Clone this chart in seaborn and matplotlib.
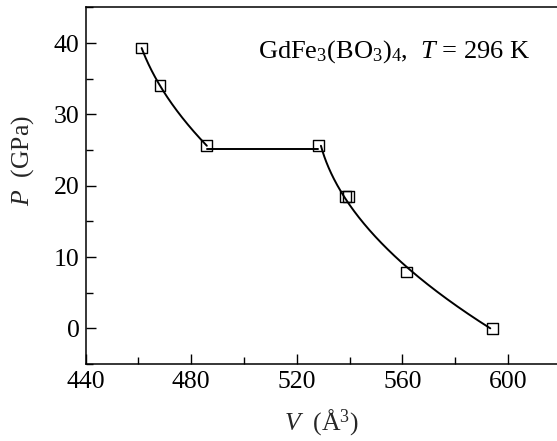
import numpy as np
import pandas as pd
import matplotlib
matplotlib.use("Agg")
import matplotlib.pyplot as plt
import seaborn as sns
from matplotlib.ticker import MultipleLocator

# Measured points: unit-cell volume (Å^3) versus pressure (GPa)
volume = [461.2, 468.2, 485.9, 528.1, 538.4, 539.7, 561.6, 594.2]
pressure = [39.3, 34.0, 25.6, 25.6, 18.5, 18.5, 7.9, 0.0]

# Branches of the guide line: high-pressure phase, plateau, low-pressure phase
high_branch = [0, 1, 2]
low_branch = [3, 4, 5, 6, 7]
plateau_level = 25.2

x_ticks = [440, 480, 520, 560, 600]
y_ticks = [0, 10, 20, 30, 40]

sns.set_style("ticks")
plt.rcParams["font.family"] = ["Liberation Serif", "DejaVu Serif"]
plt.rcParams["mathtext.fontset"] = "custom"
plt.rcParams["mathtext.rm"] = "Liberation Serif"
plt.rcParams["mathtext.it"] = "Liberation Serif:italic"
plt.rcParams["mathtext.bf"] = "Liberation Serif:bold"

W, H = 557, 441
fig = plt.figure(figsize=(W / 100, H / 100), dpi=100)
left_px, right_px, top_px, bottom_px = 85.7, 557.0, 7.4, 364.0
ax = fig.add_axes([left_px / W, 1 - bottom_px / H,
                   (right_px - left_px) / W, (bottom_px - top_px) / H])

v = np.array(volume)
p = np.array(pressure)

def smooth_branch(idx):
    # equation-of-state style guide: V as a quadratic in P
    coef = np.polyfit(p[idx], v[idx], 2)
    pp_ = np.linspace(p[idx].min(), p[idx].max(), 200)
    return np.polyval(coef, pp_), pp_

vh, ph = smooth_branch(high_branch)
vl, pl = smooth_branch(low_branch)
vp = np.array([v[high_branch[-1]], v[low_branch[0]]])
pp = np.array([plateau_level, plateau_level])

line_kw = dict(color="black", linewidth=1.4, sort=False, ax=ax, legend=False)
sns.lineplot(x=vh, y=ph, **line_kw)
sns.lineplot(x=vp, y=pp, **line_kw)
sns.lineplot(x=vl, y=pl, **line_kw)

df = pd.DataFrame({"V": volume, "P": pressure})
sns.scatterplot(data=df, x="V", y="P", marker="s", s=60,
                facecolor="none", edgecolor="black", linewidth=1.0,
                ax=ax, zorder=3)

ax.set_xlim(440, 440 + (right_px - left_px) / 2.639)
ax.set_ylim(-5, 45)
ax.set_xticks(x_ticks)
ax.set_yticks(y_ticks)
ax.xaxis.set_minor_locator(MultipleLocator(20))
ax.yaxis.set_minor_locator(MultipleLocator(5))
ax.tick_params(which="both", direction="in", width=1.0, colors="black",
               labelsize=18.5, top=False, right=False)
ax.tick_params(which="major", length=7.5, pad=5)
ax.tick_params(which="minor", length=5)
ax.tick_params(axis="y", pad=4.5)

for side in ["left", "bottom", "top"]:
    ax.spines[side].set_linewidth(1.1)
    ax.spines[side].set_color("black")
ax.spines["right"].set_visible(False)

ax.set_xlabel(r"$V$  (Å$^3$)", fontsize=18.5, va="center")
ax.set_ylabel(r"$P$  (GPa)", fontsize=18.5, va="center")
ax.xaxis.set_label_coords(0.5, -0.165)
ax.yaxis.set_label_coords(-0.133, 0.572)

ax.text(505.3, 38.0, r"GdFe$_3$(BO$_3$)$_4$,  $T$ = 296 K", fontsize=19,
        ha="left", va="baseline", color="black")

fig.savefig("out.png", dpi=100)
